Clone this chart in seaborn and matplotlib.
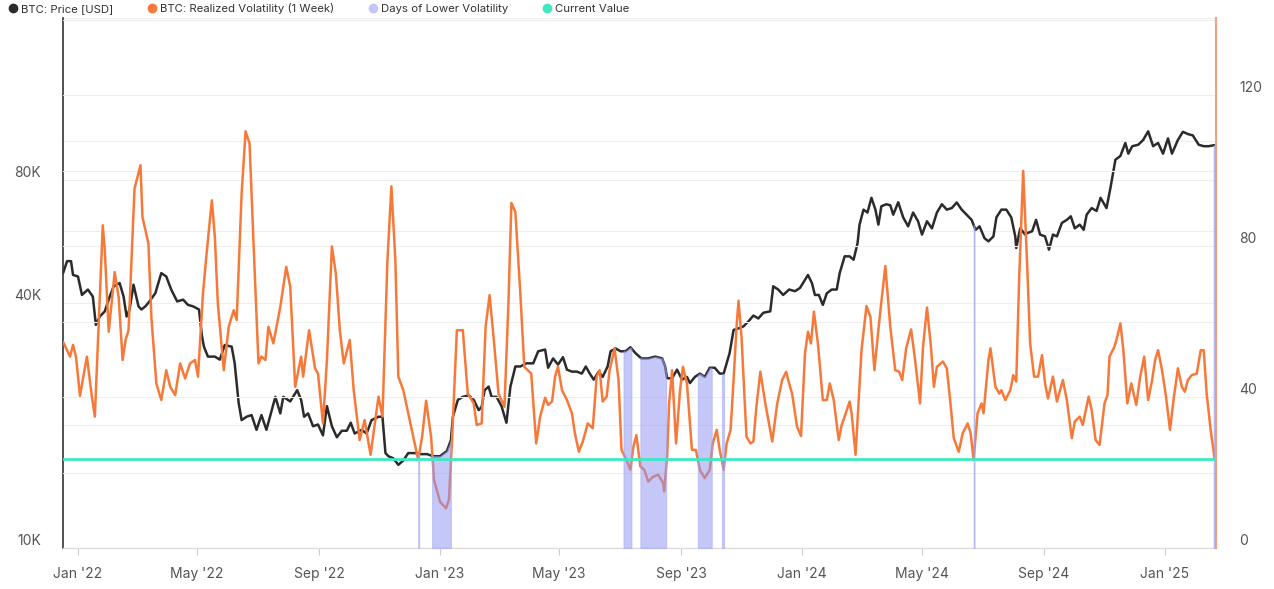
import numpy as np
import pandas as pd
import matplotlib
matplotlib.use("Agg")
import matplotlib.pyplot as plt
import matplotlib.dates as mdates
from matplotlib.lines import Line2D
from matplotlib.ticker import FixedLocator, FixedFormatter, NullLocator
import seaborn as sns

# ---------------- data ----------------
ORIGIN = "2022-01-01"   # day offsets below count from this date

price_day = [-15, -11, -7, -5, 0, 4, 10, 15, 18, 22, 27, 32, 36, 42, 46, 49, 52, 56, 61, 64,
             68, 71, 78, 84, 89, 94, 100, 106, 111, 116, 122, 125, 127, 131, 138, 143, 148, 155,
             158, 162, 165, 170, 175, 180, 185, 190, 194, 199, 204, 207, 214, 221, 225, 228, 232,
             237, 242, 247, 251, 256, 261, 266, 271, 275, 279, 286, 291, 296, 303, 307, 310, 313,
             318, 323, 328, 333, 340, 345, 352, 358, 365, 372, 376, 378, 383, 388, 394, 399, 404,
             407, 410, 414, 417, 422, 427, 432, 436, 441, 446, 452, 459, 464, 471, 474, 479, 484,
             489, 493, 498, 503, 508, 512, 516, 520, 525, 529, 534, 537, 542, 547, 552, 557, 562,
             568, 575, 582, 589, 592, 594, 599, 604, 609, 614, 617, 622, 627, 632, 637, 642, 647,
             651, 654, 657, 661, 666, 671, 676, 681, 686, 691, 698, 701, 706, 711, 717, 723, 728,
             731, 736, 740, 743, 747, 751, 755, 760, 765, 768, 773, 778, 782, 786, 788, 792, 796,
             800, 804, 807, 810, 815, 819, 822, 827, 832, 837, 842, 847, 851, 856, 861, 866, 871,
             876, 881, 886, 891, 896, 901, 905, 909, 914, 918, 923, 926, 931, 936, 941, 945, 946,
             950, 955, 957, 962, 966, 970, 975, 979, 983, 987, 992, 997, 1001, 1005, 1010, 1014,
             1017, 1022, 1027, 1031, 1037, 1041, 1046, 1051, 1056, 1059, 1063, 1069, 1074, 1079,
             1084, 1089, 1094, 1099, 1103, 1109, 1114, 1119, 1124, 1130, 1135, 1140, 1146]
price_k = [47.3, 50.6, 50.6, 46.8, 46.4, 41.8, 43.1, 41.4, 35.3, 37.0, 38.1, 41.4, 43.9, 44.7,
           41.4, 37.0, 38.5, 44.3, 39.2, 38.5, 39.2, 40.0, 42.2, 47.3, 46.4, 43.1, 40.3, 40.7,
           39.5, 39.2, 38.5, 33.1, 31.2, 29.5, 29.5, 29.0, 31.5, 31.2, 28.4, 22.7, 20.6, 21.0,
           21.2, 19.5, 21.2, 19.5, 21.2, 23.5, 21.4, 23.5, 22.9, 24.4, 23.1, 21.0, 21.4, 19.9,
           20.1, 18.9, 22.3, 19.9, 18.7, 19.4, 19.4, 20.3, 19.1, 19.5, 19.1, 20.6, 21.0, 21.0,
           17.1, 16.8, 16.6, 16.0, 16.4, 17.1, 17.1, 17.0, 17.0, 16.8, 16.8, 17.3, 18.4, 21.0,
           23.1, 23.5, 23.7, 23.1, 21.8, 22.2, 24.4, 24.9, 23.5, 23.5, 22.3, 20.3, 24.9, 27.9,
           27.9, 28.4, 28.4, 30.4, 30.7, 27.7, 29.2, 28.2, 29.4, 27.4, 27.1, 27.1, 26.8, 27.9,
           26.8, 25.9, 27.1, 26.3, 27.9, 30.4, 30.9, 30.4, 30.4, 31.1, 30.1, 29.2, 29.2, 29.5,
           29.2, 27.9, 26.1, 26.1, 27.4, 25.9, 26.3, 25.4, 26.3, 26.8, 26.3, 27.7, 27.7, 26.8,
           26.8, 28.4, 30.1, 34.3, 34.6, 35.0, 36.0, 37.2, 36.6, 37.8, 38.1, 43.9, 43.1, 41.8,
           43.1, 42.7, 43.5, 44.7, 46.8, 44.7, 41.8, 41.8, 39.5, 42.2, 43.1, 43.1, 47.3, 52.0,
           52.0, 51.0, 56.0, 62.2, 67.7, 66.6, 72.4, 67.7, 62.2, 69.0, 69.8, 69.4, 65.8, 70.6,
           64.8, 61.6, 66.6, 63.4, 58.8, 63.4, 60.9, 66.6, 69.8, 67.7, 68.3, 70.5, 67.7, 65.8,
           63.9, 60.4, 61.6, 57.6, 56.6, 58.2, 64.8, 67.7, 67.7, 64.8, 58.2, 54.5, 60.9, 58.8,
           59.3, 59.9, 63.9, 58.8, 58.2, 54.0, 58.8, 58.2, 62.8, 63.9, 65.2, 60.9, 62.2, 60.4,
           65.8, 68.3, 67.2, 72.4, 68.3, 76.6, 89.8, 91.7, 98.7, 92.9, 96.9, 97.7, 100.4, 105.4,
           96.9, 98.7, 92.9, 101.3, 92.9, 100.4, 105.1, 103.8, 103.0, 97.7, 96.9, 96.9, 97.5]

vol_day = [-15, -8, -5, -2, 2, 9, 14, 17, 25, 27, 31, 37, 41, 45, 48, 51, 57, 63, 65, 71, 74,
           79, 84, 89, 93, 98, 103, 108, 113, 118, 121, 126, 130, 135, 138, 141, 147, 152, 157,
           160, 165, 169, 173, 177, 182, 185, 189, 192, 197, 204, 210, 214, 219, 225, 227, 233,
           239, 242, 247, 251, 256, 260, 264, 268, 274, 278, 284, 289, 295, 303, 307, 312, 316,
           320, 323, 328, 333, 338, 343, 347, 351, 356, 359, 365, 371, 374, 377, 382, 388, 393,
           399, 402, 407, 411, 415, 419, 424, 430, 434, 437, 441, 446, 450, 457, 462, 466, 471,
           474, 478, 481, 484, 488, 493, 498, 501, 505, 509, 514, 519, 523, 526, 529, 533, 536,
           541, 545, 548, 553, 557, 560, 563, 567, 571, 575, 580, 585, 590, 591, 594, 596, 599,
           603, 607, 610, 614, 619, 623, 627, 632, 637, 640, 644, 647, 651, 654, 658, 661, 664,
           666, 669, 674, 678, 681, 684, 688, 693, 696, 700, 705, 710, 714, 717, 720, 725, 729,
           733, 736, 739, 742, 746, 751, 755, 758, 762, 767, 770, 773, 778, 780, 784, 790, 795,
           799, 803, 808, 814, 819, 824, 828, 831, 835, 840, 844, 849, 852, 856, 860, 863, 866,
           872, 876, 880, 883, 888, 892, 897, 900, 903, 907, 911, 913, 918, 920, 925, 929, 931,
           935, 940, 943, 946, 949, 953, 957, 960, 964, 968, 972, 975, 978, 983, 987, 993, 997,
           1002, 1005, 1010, 1013, 1019, 1022, 1026, 1030, 1035, 1038, 1040, 1045, 1047, 1051,
           1054, 1058, 1062, 1067, 1071, 1075, 1079, 1083, 1086, 1089, 1093, 1097, 1101, 1105,
           1109, 1113, 1116, 1119, 1123, 1128, 1132, 1135, 1138, 1142, 1146]
vol_value = [54.6, 50.7, 53.8, 50.7, 40.3, 50.7, 40.1, 34.8, 85.5, 78.9, 57.3, 73.1, 66.5, 49.8,
             55.1, 57.7, 95.2, 101.4, 87.7, 80.7, 61.2, 43.6, 39.2, 47.1, 42.7, 40.5, 48.9, 44.9,
             48.9, 49.8, 45.4, 67.4, 78.9, 92.1, 82.4, 64.8, 47.1, 58.6, 63.0, 60.4, 93.9, 110.4,
             107.1, 80.7, 48.9, 50.7, 49.8, 58.6, 54.2, 63.9, 74.5, 69.2, 42.7, 50.7, 45.4, 57.7,
             47.6, 46.2, 33.0, 49.8, 79.9, 72.7, 57.7, 48.9, 55.1, 41.8, 28.6, 33.9, 24.7, 40.1,
             34.8, 76.2, 95.8, 76.2, 45.4, 41.8, 35.7, 29.5, 23.4, 29.5, 39.0, 29.5, 18.0, 12.3,
             10.5, 12.7, 27.7, 57.7, 57.7, 40.9, 38.3, 32.6, 33.0, 58.6, 67.0, 55.9, 40.9, 37.4,
             64.8, 91.4, 89.0, 67.4, 48.0, 46.2, 27.7, 34.8, 39.8, 37.9, 38.8, 45.4, 48.0, 41.8,
             39.2, 35.7, 30.4, 25.5, 28.2, 33.0, 31.7, 45.4, 47.1, 38.8, 40.1, 47.1, 52.9, 44.5,
             26.0, 23.3, 20.7, 26.8, 29.9, 21.6, 20.7, 17.6, 18.9, 19.4, 17.2, 15.0, 24.2, 38.3,
             47.1, 27.7, 41.8, 48.0, 43.6, 26.0, 26.0, 20.7, 18.5, 20.7, 27.7, 31.3, 26.0, 20.7,
             27.7, 31.3, 44.5, 58.6, 65.5, 55.9, 29.5, 27.7, 28.2, 37.4, 46.7, 38.3, 33.9, 28.2,
             38.3, 44.5, 46.7, 43.6, 40.9, 32.1, 29.7, 51.5, 57.3, 54.2, 62.6, 54.2, 39.2, 39.2,
             43.6, 39.2, 28.6, 32.6, 34.8, 38.8, 35.7, 24.7, 52.4, 64.1, 61.2, 47.1, 60.4, 74.7,
             58.6, 47.1, 46.7, 44.5, 52.9, 57.9, 49.8, 38.3, 53.3, 63.7, 53.3, 42.7, 48.0, 49.4,
             47.6, 37.4, 29.1, 25.5, 30.4, 33.0, 30.4, 23.3, 35.7, 38.3, 35.7, 49.8, 52.9, 42.7,
             40.9, 41.8, 39.2, 41.8, 45.8, 44.1, 71.8, 99.9, 75.0, 54.2, 45.4, 45.4, 51.1, 43.6,
             39.6, 45.4, 38.8, 44.5, 39.2, 29.1, 33.5, 34.8, 32.6, 40.1, 36.6, 28.6, 27.3, 38.3,
             40.5, 50.7, 53.3, 55.1, 59.5, 52.4, 38.3, 43.6, 37.9, 45.4, 50.7, 39.2, 44.5, 49.8,
             52.4, 47.1, 40.1, 31.3, 40.1, 47.6, 42.7, 41.4, 44.5, 45.8, 46.2, 52.4, 52.4, 40.9,
             31.3, 23.6]

current_vol = 23.6

low_vol_start = ["2022-12-10", "2022-12-24", "2023-07-05", "2023-07-22", "2023-09-18",
                 "2023-10-12", "2024-06-22", "2025-02-19"]
low_vol_end = ["2022-12-11", "2023-01-12", "2023-07-13", "2023-08-17", "2023-10-02",
               "2023-10-14", "2024-06-23", "2025-02-20"]

left_grid = [10000, 20000, 40000, 60000, 80000, 100000, 200000]
left_labels = ["10K", "", "40K", "", "80K", "", ""]
right_grid = [0, 20, 40, 60, 80, 100, 120, 140]
right_labels = ["0", "", "40", "", "80", "", "120", ""]
x_tick_dates = ["2022-01-01", "2022-05-01", "2022-09-01", "2023-01-01", "2023-05-01",
                "2023-09-01", "2024-01-01", "2024-05-01", "2024-09-01", "2025-01-01"]
x_tick_labels = ["Jan '22", "May '22", "Sep '22", "Jan '23", "May '23", "Sep '23",
                 "Jan '24", "May '24", "Sep '24", "Jan '25"]
legend_labels = ["BTC: Price [USD]", "BTC: Realized Volatility (1 Week)",
                 "Days of Lower Volatility", "Current Value"]

# ---------------- styling ----------------
C_PRICE = "#2b2b2b"
C_VOL = "#f7793a"
C_LOW = "#9094f2"
C_CUR = "#3de8c2"
C_TXT = "#555555"

sns.set_theme(style="white")
plt.rcParams["font.family"] = ["Inter", "DejaVu Sans"]

origin = pd.Timestamp(ORIGIN)
price_dates = origin + pd.to_timedelta(price_day, unit="D")
price_vals = np.array(price_k) * 1000.0
vol_dates = origin + pd.to_timedelta(vol_day, unit="D")

W, H = 1274, 589
fig = plt.figure(figsize=(W / 100, H / 100), dpi=100)
fig.patch.set_facecolor("white")
ax = fig.add_axes([63 / W, (H - 548) / H, (1216 - 63) / W, (548 - 18) / H])
ax.set_facecolor("white")
ax2 = ax.twinx()

# price (left, log)
sns.lineplot(x=price_dates, y=price_vals, ax=ax, color=C_PRICE, linewidth=1.8)
ax.set_yscale("log")
ax.set_ylim(10000, 200000)

# volatility (right)
sns.lineplot(x=vol_dates, y=vol_value, ax=ax2, color=C_VOL, linewidth=1.8, zorder=2)

# days of lower volatility: shaded from the bottom up to the price line
pnum = mdates.date2num(price_dates)
logp = np.log(price_vals)
for s, e in zip(low_vol_start, low_vol_end):
    s_n = mdates.date2num(pd.Timestamp(s))
    e_n = mdates.date2num(pd.Timestamp(e))
    inner = pnum[(pnum > s_n) & (pnum < e_n)]
    xs = np.concatenate([[s_n], inner, [e_n]])
    tops = np.exp(np.interp(xs, pnum, logp))
    ax2.fill_between(xs, 10000, tops, transform=ax.transData, color=C_LOW, alpha=0.52,
                     edgecolor="#a3a7f4", linewidth=0.8, zorder=3)

ax2.axhline(current_vol, color=C_CUR, linewidth=2.0, zorder=4)
ax2.set_ylim(0, 140.4)

# x axis
x0 = origin + pd.Timedelta(days=-15.1)
x1 = origin + pd.Timedelta(days=1147.4)
ax.set_xlim(x0, x1)
ax.xaxis.set_major_locator(FixedLocator(mdates.date2num(pd.to_datetime(x_tick_dates))))
ax.xaxis.set_major_formatter(FixedFormatter(x_tick_labels))
ax.xaxis.set_minor_locator(NullLocator())
ax.tick_params(axis="x", length=5, width=0.8, color="#cccccc", pad=9, labelsize=10,
               labelcolor=C_TXT, bottom=True)
ax.set_xlabel("")

# left y axis
ax.yaxis.set_major_locator(FixedLocator(left_grid))
ax.yaxis.set_major_formatter(FixedFormatter(left_labels))
ax.yaxis.set_minor_locator(NullLocator())
ax.tick_params(axis="y", length=0, pad=16, labelsize=10, labelcolor=C_TXT)
ax.grid(axis="y", color="#eeeeee", linewidth=0.8)
ax.set_ylabel("")

# right y axis
ax2.yaxis.set_major_locator(FixedLocator(right_grid))
ax2.yaxis.set_major_formatter(FixedFormatter(right_labels))
ax2.tick_params(axis="y", length=0, pad=17, labelsize=10, labelcolor=C_TXT)
ax2.grid(axis="y", color="#eeeeee", linewidth=0.8)
ax2.set_ylabel("")
ax2.set_axisbelow(True)

for lbl in ax.get_yticklabels() + ax2.get_yticklabels():
    lbl.set_verticalalignment("bottom")

# spines
for sp in ["top", "right"]:
    ax.spines[sp].set_visible(False)
ax.spines["left"].set_color("#333333")
ax.spines["left"].set_linewidth(1.2)
ax.spines["bottom"].set_color("#dddddd")
ax.spines["bottom"].set_linewidth(1.0)
for sp in ["top", "left", "bottom"]:
    ax2.spines[sp].set_visible(False)
ax2.spines["right"].set_color("#f2a27e")
ax2.spines["right"].set_linewidth(1.5)

# legend
handles = [Line2D([], [], marker="o", linestyle="", markersize=6, color=c)
           for c in [C_PRICE, C_VOL, "#c3c6f7", C_CUR]]
fig.legend(handles, legend_labels, loc="upper left", bbox_to_anchor=(0.0055, 0.999),
           ncol=4, frameon=False, fontsize=8.2, handlelength=0.6, handletextpad=0.45,
           columnspacing=3.05, borderaxespad=0, borderpad=0.2, labelcolor="#333333")

fig.savefig("out.png", dpi=100, facecolor="white")
